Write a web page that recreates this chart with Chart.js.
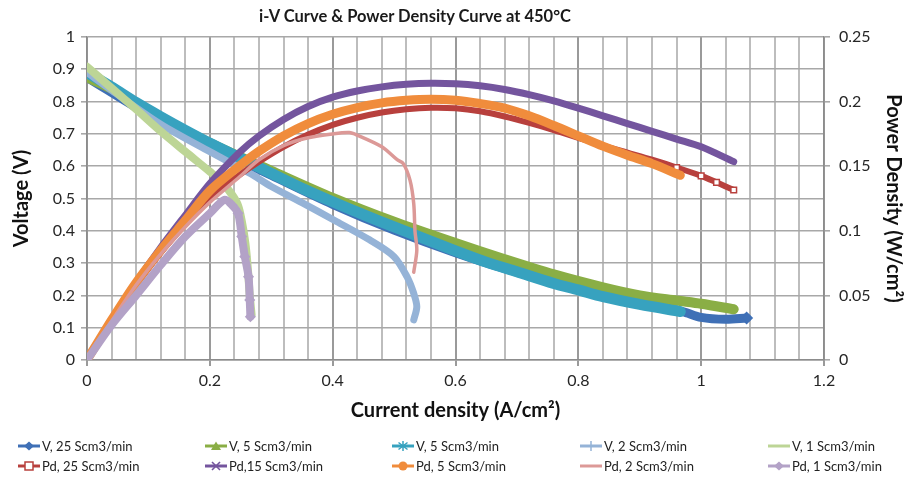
<!DOCTYPE html>
<html>
<head>
<meta charset="utf-8">
<script src="https://cdn.jsdelivr.net/npm/chart.js@4.4.1/dist/chart.umd.min.js"></script>
<style>
    body { margin: 0; background: #fff; font-family: Lato, "Open Sans", sans-serif; }
    #wrap { position: relative; width: 911px; height: 477px; }
    #title { position: absolute; left: 0; top: 6px; width: 830px; text-align: center; font-weight: bold; font-size: 16.5px; color: #1a1a1a; }
    .leg { position: absolute; font-size: 13px; color: #222; white-space: nowrap; display: flex; align-items: center; }
    .leg svg { margin-right: 2px; }
</style>
</head>
<body>
<div id="wrap">
    <canvas id="ivChart" width="911" height="477"></canvas>
    <div id="title">i-V Curve &amp; Power Density Curve at 450°C</div>
    <div id="legend"></div>
</div>
<script>
// current density (A/cm2) and voltage (V) / power density (W/cm2)
const iV25 = [0, 0.1, 0.2, 0.3, 0.4, 0.5, 0.6, 0.7, 0.8, 0.9, 0.97, 1.0, 1.04, 1.074];
const vV25 = [0.875, 0.76, 0.662, 0.572, 0.482, 0.402, 0.332, 0.272, 0.226, 0.18, 0.15, 0.132, 0.126, 0.13];

const iV5g = [0, 0.04, 0.1, 0.2, 0.3, 0.4, 0.5, 0.6, 0.68, 0.76, 0.84, 0.9, 0.96, 1.0, 1.053];
const vV5g = [0.875, 0.84, 0.77, 0.672, 0.586, 0.502, 0.428, 0.362, 0.312, 0.265, 0.225, 0.2, 0.184, 0.174, 0.157];

const iV5t = [0, 0.04, 0.08, 0.12, 0.16, 0.2, 0.25, 0.3, 0.35, 0.4, 0.45, 0.5, 0.55, 0.6, 0.65, 0.7, 0.76, 0.8, 0.84, 0.9, 0.966];
const vV5t = [0.89, 0.845, 0.797, 0.753, 0.711, 0.671, 0.625, 0.578, 0.532, 0.49, 0.45, 0.412, 0.375, 0.338, 0.303, 0.273, 0.237, 0.217, 0.196, 0.172, 0.15];

const iV2 = [0, 0.04, 0.12, 0.2, 0.265, 0.3, 0.35, 0.407, 0.46, 0.5, 0.521, 0.532, 0.537, 0.532];
const vV2 = [0.89, 0.835, 0.73, 0.645, 0.578, 0.537, 0.487, 0.428, 0.372, 0.32, 0.258, 0.206, 0.165, 0.124];

const iV1 = [0, 0.02, 0.04, 0.08, 0.12, 0.16, 0.2, 0.22, 0.236, 0.246, 0.252, 0.258, 0.262, 0.265, 0.268];
const vV1 = [0.908, 0.875, 0.842, 0.776, 0.708, 0.645, 0.583, 0.55, 0.512, 0.478, 0.43, 0.36, 0.28, 0.2, 0.14];

const iPd25 = [0, 0.04, 0.08, 0.12, 0.16, 0.2, 0.249, 0.28, 0.32, 0.36, 0.4, 0.44, 0.48, 0.52, 0.56, 0.6, 0.64, 0.68, 0.72, 0.76, 0.8, 0.84, 0.88, 0.92, 0.96, 1.0, 1.025, 1.053];
const pPd25 = [0, 0.031, 0.058, 0.083, 0.105, 0.126, 0.1435, 0.1535, 0.165, 0.1745, 0.182, 0.1875, 0.1915, 0.194, 0.1952, 0.1948, 0.1925, 0.1885, 0.1835, 0.178, 0.172, 0.166, 0.1605, 0.155, 0.149, 0.1425, 0.1375, 0.1316];

const iPd15 = [0, 0.04, 0.08, 0.12, 0.16, 0.2, 0.249, 0.28, 0.32, 0.36, 0.4, 0.44, 0.48, 0.52, 0.56, 0.6, 0.64, 0.68, 0.72, 0.76, 0.8, 0.84, 0.88, 0.92, 0.96, 1.0, 1.053];
const pPd15 = [0, 0.031, 0.06, 0.087, 0.112, 0.1365, 0.161, 0.1734, 0.1862, 0.1962, 0.2034, 0.2082, 0.2114, 0.2134, 0.2142, 0.2138, 0.2122, 0.2094, 0.2054, 0.2006, 0.195, 0.189, 0.183, 0.177, 0.171, 0.165, 0.1535];

const iPd5 = [0, 0.04, 0.08, 0.12, 0.16, 0.2, 0.249, 0.28, 0.32, 0.36, 0.4, 0.44, 0.48, 0.52, 0.56, 0.6, 0.64, 0.68, 0.72, 0.76, 0.8, 0.84, 0.88, 0.92, 0.966];
const pPd5 = [0, 0.031, 0.06, 0.085, 0.108, 0.131, 0.1505, 0.1615, 0.1735, 0.183, 0.1902, 0.1954, 0.199, 0.201, 0.2018, 0.201, 0.1985, 0.195, 0.189, 0.1815, 0.1735, 0.1655, 0.1585, 0.152, 0.143];

const iPd2 = [0, 0.04, 0.08, 0.12, 0.16, 0.2, 0.249, 0.28, 0.32, 0.36, 0.4, 0.427, 0.44, 0.48, 0.505, 0.515, 0.526, 0.532, 0.534, 0.537, 0.532];
const pPd2 = [0, 0.03, 0.058, 0.082, 0.103, 0.122, 0.142, 0.155, 0.166, 0.172, 0.175, 0.176, 0.174, 0.165, 0.155, 0.152, 0.139, 0.121, 0.1, 0.085, 0.068];

const iPd1 = [0, 0.04, 0.08, 0.12, 0.16, 0.2, 0.224, 0.236, 0.246, 0.252, 0.257, 0.263, 0.265, 0.266];
const pPd1 = [0, 0.027, 0.05, 0.0735, 0.0955, 0.1135, 0.124, 0.12, 0.1135, 0.0955, 0.08, 0.0645, 0.0465, 0.0335];

const seriesNames = ['V, 25 Scm3/min', 'V, 5 Scm3/min', 'V, 5 Scm3/min', 'V, 2 Scm3/min', 'V, 1 Scm3/min',
    'Pd, 25 Scm3/min', 'Pd,15 Scm3/min', 'Pd, 5 Scm3/min', 'Pd, 2 Scm3/min', 'Pd, 1 Scm3/min'];
const seriesColors = ['#3f70b6', '#8aae45', '#37a2bf', '#95b3d7', '#bdd596',
    '#b8403d', '#74559e', '#f08c3c', '#dc9997', '#b3a2c7'];
const seriesWidths = [9, 10, 11, 7, 8, 6, 7, 9, 3.5, 8];
const markers = ['diamond', 'triangle', 'star', 'plus', 'none', 'square', 'x', 'circle', 'none', 'diamond'];

function pts(xs, ys) {
    return xs.map((x, i) => ({ x: x, y: ys[i] }));
}

const seriesData = [
    pts(iV25, vV25), pts(iV5g, vV5g), pts(iV5t, vV5t), pts(iV2, vV2), pts(iV1, vV1),
    pts(iPd25, pPd25), pts(iPd15, pPd15), pts(iPd5, pPd5), pts(iPd2, pPd2), pts(iPd1, pPd1)
];

// markers only where they show up separately in the original: the Pd 1 drop, the ends of the 25 runs
function tailRadius(i) {
    return function (c) {
        const x = c.raw ? c.raw.x : 0;
        if (i === 9 && c.dataIndex >= 7) return 4.5;
        if (i === 5 && x >= 0.96) return 4;
        if (i === 0 && c.dataIndex === iV25.length - 1) return 5.5;
        return 0;
    };
}

const datasets = seriesData.map((d, i) => ({
    label: seriesNames[i],
    data: d,
    yAxisID: i < 5 ? 'y' : 'y2',
    showLine: true,
    borderColor: seriesColors[i],
    backgroundColor: i === 5 ? '#ffffff' : seriesColors[i],
    borderWidth: seriesWidths[i],
    borderCapStyle: 'round',
    borderJoinStyle: 'round',
    pointRadius: tailRadius(i),
    pointStyle: i === 5 ? 'rect' : 'rectRot',
    pointBorderWidth: 1.5,
    pointBackgroundColor: i === 5 ? '#ffffff' : seriesColors[i],
    tension: 0.3,
    order: -i
}));

function isMajor(v) {
    return Math.abs(v / 0.2 - Math.round(v / 0.2)) < 1e-6;
}

const tickFont = { family: 'Lato', size: 16 };
const axisFont = { family: 'Lato', size: 20, weight: 'bold' };

new Chart(document.getElementById('ivChart').getContext('2d'), {
    type: 'scatter',
    data: { datasets: datasets },
    options: {
        responsive: false,
        animation: false,
        layout: { padding: { top: 37, bottom: 50, left: 0, right: 0 } },
        plugins: { legend: { display: false }, tooltip: { enabled: false } },
        scales: {
            x: {
                type: 'linear', min: 0, max: 1.2,
                afterFit: function (s) { s.height = 67; },
                ticks: {
                    stepSize: 0.04, maxTicksLimit: 40, autoSkip: false, maxRotation: 0, padding: 5,
                    color: '#262626', font: tickFont,
                    callback: function (v) { return isMajor(v) ? String(parseFloat(v.toFixed(1))) : ''; }
                },
                grid: {
                    color: function (c) { return isMajor(c.tick.value) ? '#9a9a9a' : '#bdbdbd'; },
                    tickColor: function (c) { return isMajor(c.tick.value) ? '#9a9a9a' : 'transparent'; },
                    tickLength: 6, lineWidth: 2
                },
                border: { color: '#8c8c8c', width: 1.5 },
                title: { display: true, text: 'Current density (A/cm²)', font: axisFont, color: '#111', padding: { top: 0, bottom: 4 } }
            },
            y: {
                position: 'left', min: 0, max: 1,
                afterFit: function (s) { s.width = 87; },
                ticks: { stepSize: 0.1, padding: 6, color: '#262626', font: tickFont,
                    callback: function (v) { return String(parseFloat(v.toFixed(1))); } },
                grid: { color: '#a8a8a8', tickColor: '#a8a8a8', tickLength: 6, lineWidth: 1.6 },
                border: { color: '#8c8c8c', width: 1.5 },
                title: { display: true, text: 'Voltage (V)', font: axisFont, color: '#111', padding: { top: 10, bottom: 0 } }
            },
            y2: {
                position: 'right', min: 0, max: 0.25,
                afterFit: function (s) { s.width = 87; },
                ticks: { stepSize: 0.05, padding: 9, color: '#262626', font: tickFont,
                    callback: function (v) { return String(parseFloat(v.toFixed(2))); } },
                grid: { drawOnChartArea: false, tickColor: '#a8a8a8', tickLength: 6, lineWidth: 1.6 },
                border: { color: '#8c8c8c', width: 1.5 },
                title: { display: true, text: 'Power Density (W/cm²)', font: axisFont, color: '#111', padding: { top: 6, bottom: 0 } }
            }
        }
    }
});

// legend in the excel layout: two rows of five
function markerSvg(kind, color) {
    let m = '';
    if (kind === 'diamond') m = `<polygon points="11,0.5 16,5 11,9.5 6,5" fill="${color}"/>`;
    if (kind === 'triangle') m = `<polygon points="11,0.5 16,9 6,9" fill="${color}"/>`;
    if (kind === 'star') m = `<g stroke="${color}" stroke-width="1.5"><line x1="11" y1="0" x2="11" y2="10"/><line x1="6.5" y1="1.5" x2="15.5" y2="8.5"/><line x1="15.5" y1="1.5" x2="6.5" y2="8.5"/></g>`;
    if (kind === 'plus') m = `<g stroke="${color}" stroke-width="1.5"><line x1="11" y1="0" x2="11" y2="10"/><line x1="6" y1="5" x2="16" y2="5"/></g>`;
    if (kind === 'square') m = `<rect x="7" y="1" width="8" height="8" fill="#fff" stroke="${color}" stroke-width="1.5"/>`;
    if (kind === 'x') m = `<g stroke="${color}" stroke-width="1.6"><line x1="7" y1="1" x2="15" y2="9"/><line x1="15" y1="1" x2="7" y2="9"/></g>`;
    if (kind === 'circle') m = `<circle cx="11" cy="5" r="4.5" fill="${color}"/>`;
    return `<svg width="22" height="10" viewBox="0 0 22 10"><line x1="0" y1="5" x2="22" y2="5" stroke="${color}" stroke-width="3"/>${m}</svg>`;
}

const legendCols = [18, 205, 392, 580, 768];
const legendRows = [447, 467];
let html = '';
seriesNames.forEach(function (name, i) {
    const x = legendCols[i % 5];
    const y = legendRows[Math.floor(i / 5)] - 9;
    html += `<div class="leg" style="left:${x}px;top:${y}px">${markerSvg(markers[i], seriesColors[i])}${name}</div>`;
});
document.getElementById('legend').innerHTML = html;
</script>
</body>
</html>
